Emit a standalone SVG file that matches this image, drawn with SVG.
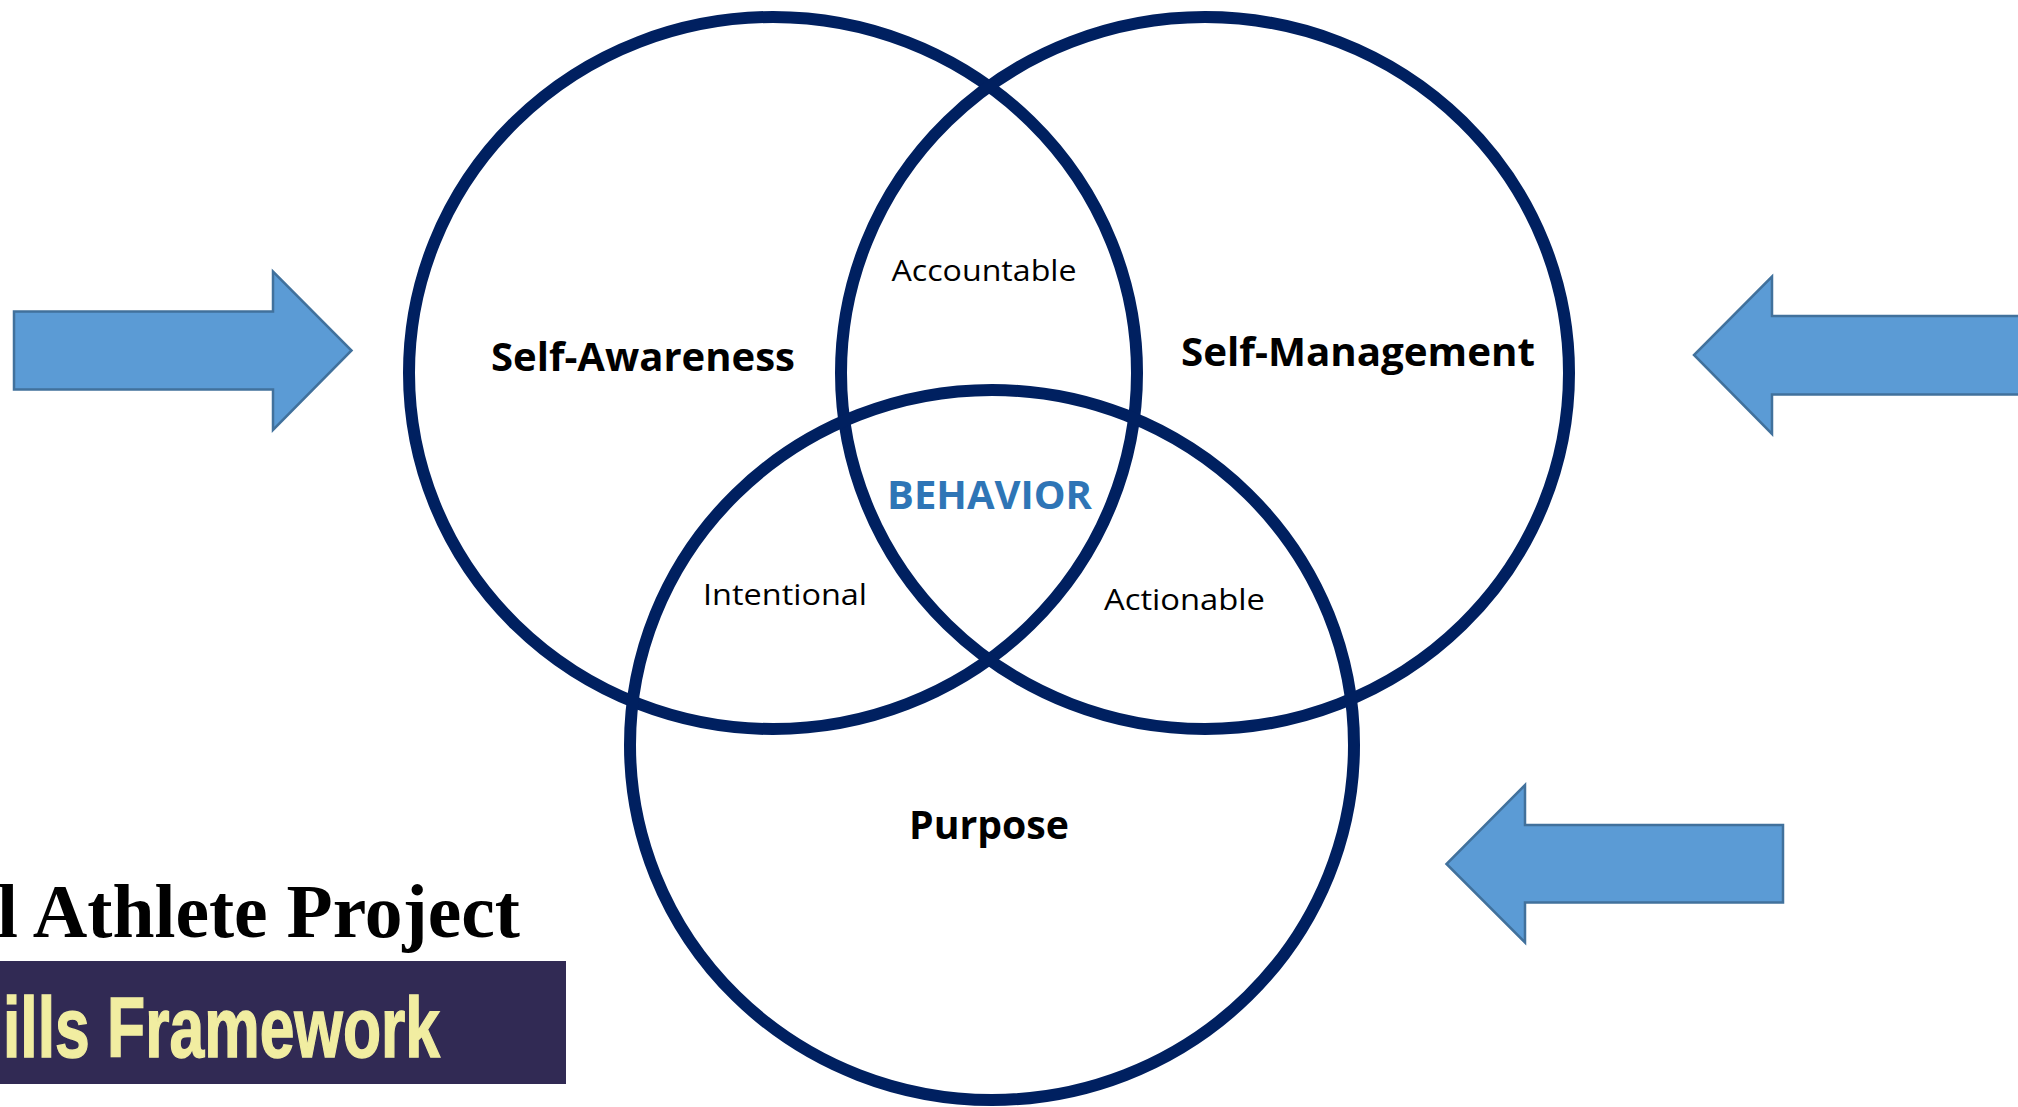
<svg xmlns="http://www.w3.org/2000/svg" width="2018" height="1107" viewBox="0 0 2018 1107">
<style>
.ring{fill:none;stroke:#002060;stroke-width:12}
.arrow{fill:#5B9BD5;stroke:#41719C;stroke-width:2.5}
.lbl{font-family:"Open Sans","Noto Sans","Liberation Sans",sans-serif;fill:#000;text-anchor:middle}
.b{font-weight:bold}
</style>
<rect width="2018" height="1107" fill="#fff"/>
<g id="arrows">
<polygon class="arrow" points="14,311.5 273,311.5 273,271.5 351.5,350.5 273,430 273,389.5 14,389.5"/>
<polygon class="arrow" points="2030,316 1772,316 1772,276.5 1694,355 1772,434 1772,394.5 2030,394.5"/>
<polygon class="arrow" points="1783,825 1525,825 1525,785 1446.5,864 1525,942.5 1525,902.5 1783,902.5"/>
</g>
<g id="self-awareness">
<ellipse class="ring" cx="773" cy="373" rx="364" ry="356"/>
<text class="lbl b" x="643" y="371" font-size="40" textLength="304" lengthAdjust="spacingAndGlyphs">Self-Awareness</text>
</g>
<g id="self-management">
<ellipse class="ring" cx="1205" cy="373" rx="364" ry="356"/>
<text class="lbl b" x="1358" y="366" font-size="40" textLength="354" lengthAdjust="spacingAndGlyphs">Self-Management</text>
</g>
<g id="purpose">
<ellipse class="ring" cx="992" cy="745" rx="362" ry="355"/>
<text class="lbl b" x="989" y="839" font-size="40" textLength="160" lengthAdjust="spacingAndGlyphs">Purpose</text>
</g>
<g id="overlaps">
<text class="lbl" x="984" y="281" font-size="30" textLength="185" lengthAdjust="spacingAndGlyphs">Accountable</text>
<text class="lbl" x="785" y="605" font-size="30" textLength="164" lengthAdjust="spacingAndGlyphs">Intentional</text>
<text class="lbl" x="1184.5" y="610" font-size="30" textLength="161" lengthAdjust="spacingAndGlyphs">Actionable</text>
<text class="lbl b" x="989.5" y="509" font-size="39" style="fill:#2E75B6" textLength="205" lengthAdjust="spacingAndGlyphs">BEHAVIOR</text>
</g>
<g id="title">
<text x="-3" y="937" font-family="'Liberation Serif','DejaVu Serif',serif" font-weight="bold" font-size="76" fill="#000" textLength="523" lengthAdjust="spacingAndGlyphs">l Athlete Project</text>
<rect x="0" y="961" width="566" height="123" fill="#312A54"/>
<text x="3" y="1057" font-family="'Liberation Sans Narrow','Liberation Sans',sans-serif" font-weight="bold" font-size="86" fill="#F1EDA1" stroke="#F1EDA1" stroke-width="1.5" textLength="437" lengthAdjust="spacingAndGlyphs">ills Framework</text>
</g>
</svg>
